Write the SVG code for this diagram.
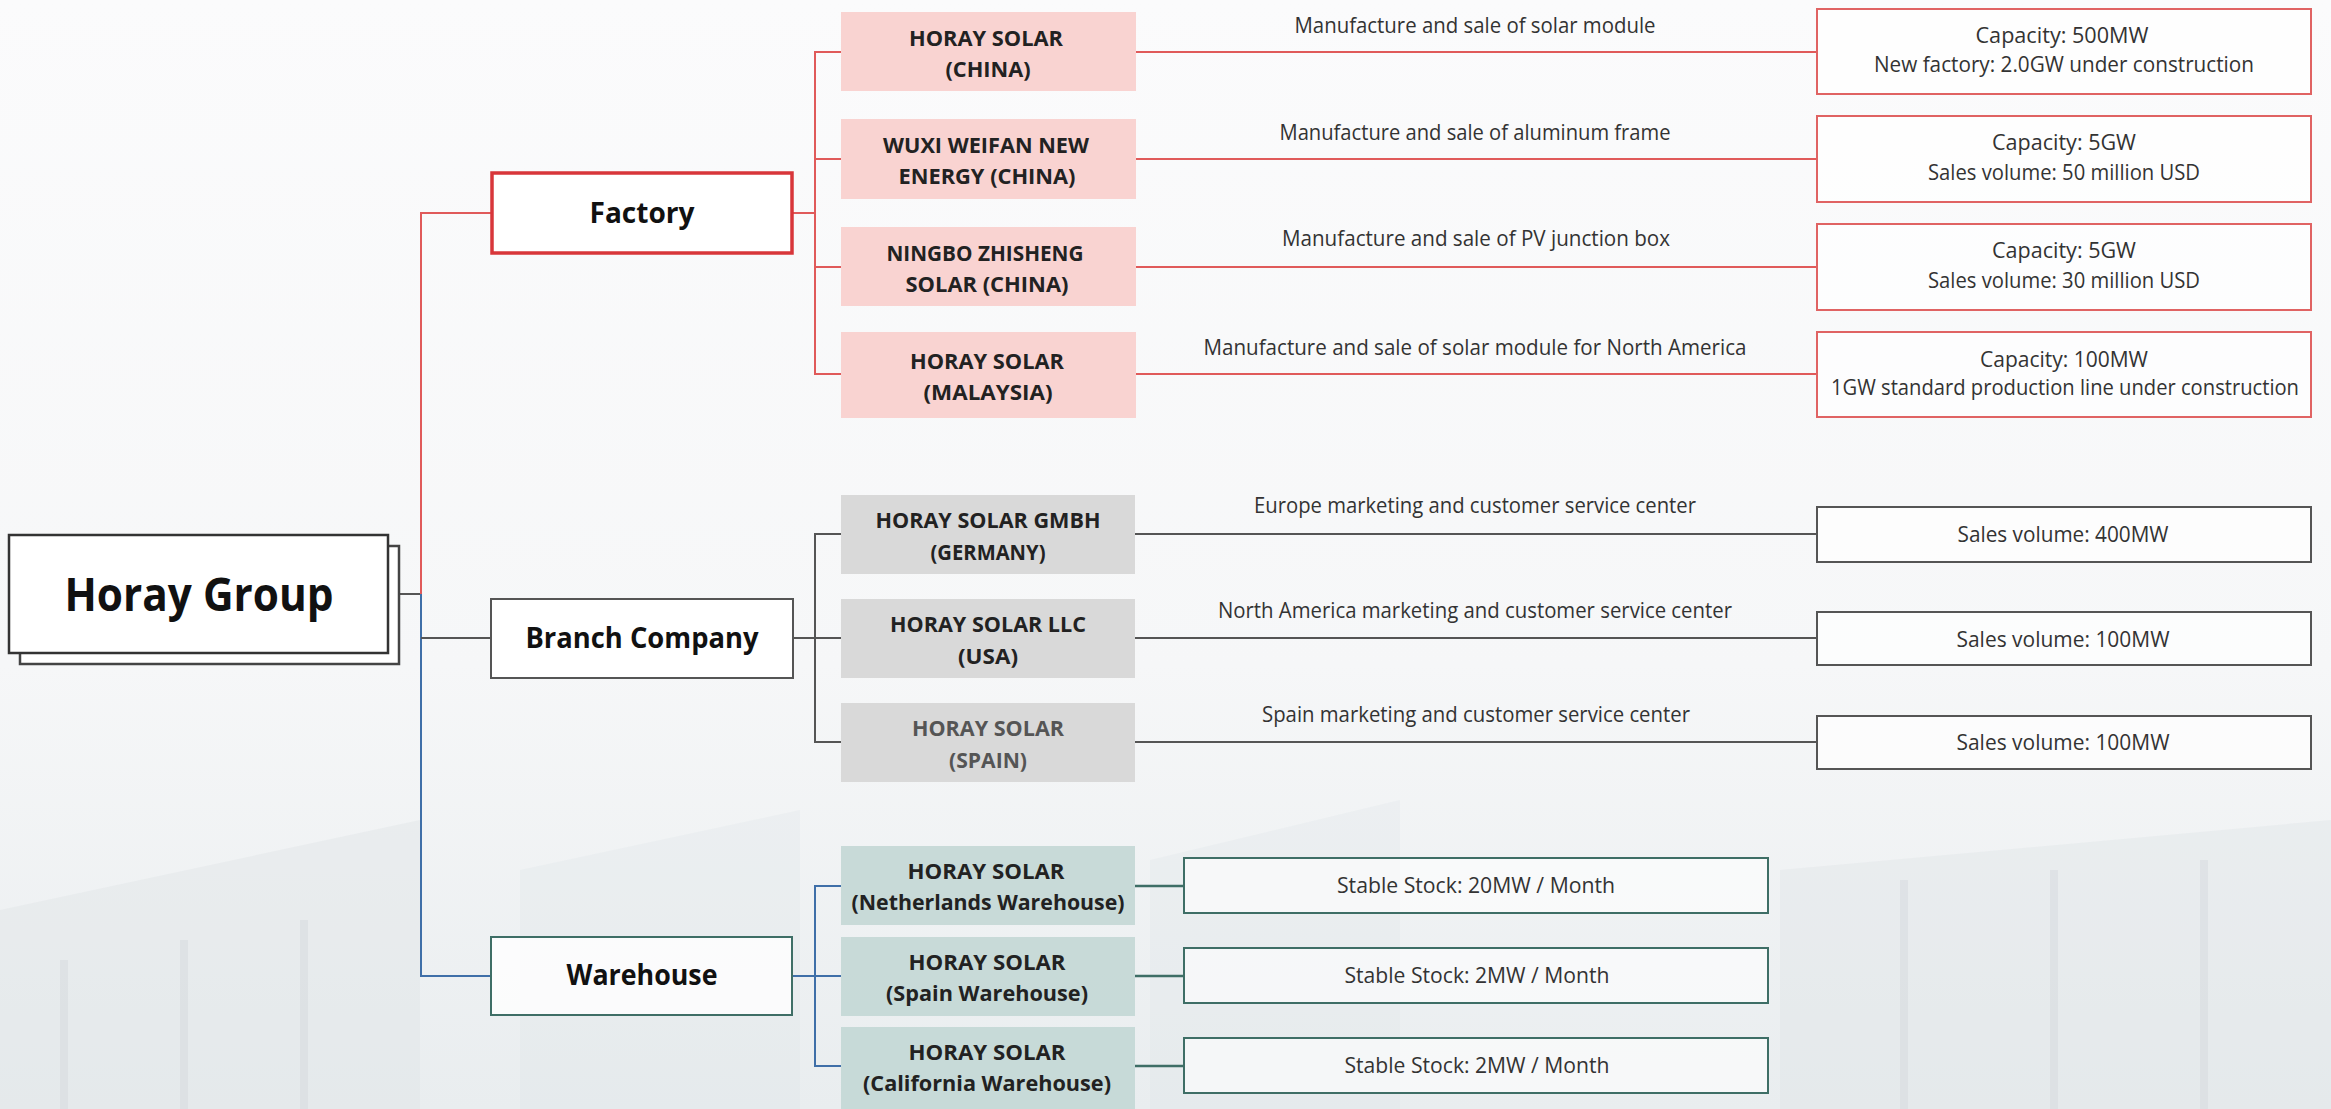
<svg xmlns="http://www.w3.org/2000/svg" width="2331" height="1109" viewBox="0 0 2331 1109">
<defs>
<linearGradient id="bg" x1="0" y1="0" x2="0" y2="1">
<stop offset="0" stop-color="#fbfbfc"/>
<stop offset="0.6" stop-color="#f6f7f8"/>
<stop offset="1" stop-color="#e9edef"/>
</linearGradient>
<style>
text{font-family:"Open Sans","Liberation Sans",sans-serif;text-anchor:middle;}
.main{font-size:29px;font-weight:700;fill:#111;}
.root{font-size:47px;font-weight:700;fill:#111;}
.sub{font-size:22px;font-weight:700;fill:#222;}
.desc{font-size:21px;font-weight:400;fill:#333;}
.det{font-size:21px;font-weight:400;fill:#333;}
.pink{fill:#f9d3d1;}
.gray{fill:#d9d9d9;}
.teal{fill:#c3d7d5;fill-opacity:0.9;}
.rbox{fill:#ffffff;fill-opacity:0.7;stroke:#e06363;stroke-width:2;}
.kbox{fill:#ffffff;fill-opacity:0.7;stroke:#555;stroke-width:2;}
.tbox{fill:#ffffff;fill-opacity:0.6;stroke:#3e6e66;stroke-width:2;}
.lr{stroke:#e05a5a;stroke-width:2;fill:none;}
.lk{stroke:#555;stroke-width:2;fill:none;}
.lb{stroke:#3f6fa8;stroke-width:2;fill:none;}
.lt{stroke:#3e6e66;stroke-width:2.5;fill:none;}
</style>
</defs>
<rect x="0" y="0" width="2331" height="1109" fill="url(#bg)"/>
<g id="background" fill="#dfe4e7" fill-opacity="0.45" stroke="none">
<polygon points="0,910 420,820 420,1109 0,1109"/>
<polygon points="520,870 800,810 800,1109 520,1109" fill-opacity="0.3"/>
<polygon points="1150,860 1400,800 1400,1109 1150,1109" fill-opacity="0.3"/>
<polygon points="1780,870 2331,820 2331,1109 1780,1109" fill-opacity="0.4"/>
<rect x="60" y="960" width="8" height="149" fill="#d2d8dc"/>
<rect x="180" y="940" width="8" height="169" fill="#d2d8dc"/>
<rect x="300" y="920" width="8" height="189" fill="#d2d8dc"/>
<rect x="1900" y="880" width="8" height="229" fill="#d2d8dc"/>
<rect x="2050" y="870" width="8" height="239" fill="#d2d8dc"/>
<rect x="2200" y="860" width="8" height="249" fill="#d2d8dc"/>
</g>
<g id="connectors">
<line class="lk" x1="399" y1="594" x2="421" y2="594" stroke="#2c3e5c"/>
<polyline class="lr" points="491,213 421,213 421,594"/>
<polyline class="lb" points="421,594 421,976 491,976"/>
<line class="lk" x1="421" y1="638" x2="491" y2="638"/>
<line class="lr" x1="793" y1="213" x2="815" y2="213"/>
<polyline class="lr" points="841,52 815,52 815,374 841,374"/>
<line class="lr" x1="815" y1="159" x2="841" y2="159"/>
<line class="lr" x1="815" y1="267" x2="841" y2="267"/>
<line class="lr" x1="1136" y1="52" x2="1817" y2="52"/>
<line class="lr" x1="1136" y1="159" x2="1817" y2="159"/>
<line class="lr" x1="1136" y1="267" x2="1817" y2="267"/>
<line class="lr" x1="1136" y1="374" x2="1817" y2="374"/>
<line class="lk" x1="793" y1="638" x2="815" y2="638"/>
<polyline class="lk" points="841,534 815,534 815,742 841,742"/>
<line class="lk" x1="815" y1="638" x2="841" y2="638"/>
<line class="lk" x1="1135" y1="534" x2="1817" y2="534"/>
<line class="lk" x1="1135" y1="638" x2="1817" y2="638"/>
<line class="lk" x1="1135" y1="742" x2="1817" y2="742"/>
<line class="lb" x1="793" y1="976" x2="815" y2="976"/>
<polyline class="lb" points="841,886 815,886 815,1066 841,1066"/>
<line class="lb" x1="815" y1="976" x2="841" y2="976"/>
<line class="lt" x1="1135" y1="886" x2="1184" y2="886"/>
<line class="lt" x1="1135" y1="976" x2="1184" y2="976"/>
<line class="lt" x1="1135" y1="1066" x2="1184" y2="1066"/>
</g>
<g id="horay-group">
<rect x="20" y="546" width="379" height="118" fill="#fff" stroke="#444" stroke-width="2.5"/>
<rect x="9" y="535" width="379" height="118" fill="#fff" stroke="#333" stroke-width="2.5"/>
<text class="root" x="199" y="611" textLength="269" lengthAdjust="spacingAndGlyphs">Horay Group</text>
</g>
<g id="factory">
<rect x="492" y="173" width="300" height="80" fill="#fff" stroke="#d8363a" stroke-width="3.5"/>
<text class="main" x="642" y="223" textLength="105" lengthAdjust="spacingAndGlyphs">Factory</text>
</g>
<g id="branch-company">
<rect x="491" y="599" width="302" height="79" fill="#fff" stroke="#555" stroke-width="2"/>
<text class="main" x="642" y="648" textLength="233" lengthAdjust="spacingAndGlyphs">Branch Company</text>
</g>
<g id="warehouse">
<rect x="491" y="937" width="301" height="78" fill="#fff" fill-opacity="0.8" stroke="#3e6e66" stroke-width="2"/>
<text class="main" x="642" y="985" textLength="151" lengthAdjust="spacingAndGlyphs">Warehouse</text>
</g>

<g id="horay-solar-china">
<rect class="pink" x="841" y="12" width="295" height="79"/>
<text class="sub" x="986" y="46" textLength="154" lengthAdjust="spacingAndGlyphs">HORAY SOLAR</text>
<text class="sub" x="988" y="77" textLength="85" lengthAdjust="spacingAndGlyphs">(CHINA)</text>
</g>
<g id="wuxi-weifan">
<rect class="pink" x="841" y="119" width="295" height="80"/>
<text class="sub" x="986" y="153" textLength="206" lengthAdjust="spacingAndGlyphs">WUXI WEIFAN NEW</text>
<text class="sub" x="987" y="184" textLength="177" lengthAdjust="spacingAndGlyphs">ENERGY (CHINA)</text>
</g>
<g id="ningbo-zhisheng">
<rect class="pink" x="841" y="227" width="295" height="79"/>
<text class="sub" x="985" y="261" textLength="197" lengthAdjust="spacingAndGlyphs">NINGBO ZHISHENG</text>
<text class="sub" x="987" y="292" textLength="163" lengthAdjust="spacingAndGlyphs">SOLAR (CHINA)</text>
</g>
<g id="horay-solar-malaysia">
<rect class="pink" x="841" y="332" width="295" height="86"/>
<text class="sub" x="987" y="369" textLength="154" lengthAdjust="spacingAndGlyphs">HORAY SOLAR</text>
<text class="sub" x="988" y="400" textLength="129" lengthAdjust="spacingAndGlyphs">(MALAYSIA)</text>
</g>

<g id="desc-factory">
<text class="desc" x="1475" y="33" textLength="361" lengthAdjust="spacingAndGlyphs">Manufacture and sale of solar module</text>
<text class="desc" x="1475" y="140" textLength="391" lengthAdjust="spacingAndGlyphs">Manufacture and sale of aluminum frame</text>
<text class="desc" x="1476" y="246" textLength="388" lengthAdjust="spacingAndGlyphs">Manufacture and sale of PV junction box</text>
<text class="desc" x="1475" y="355" textLength="543" lengthAdjust="spacingAndGlyphs">Manufacture and  sale of solar module for North America</text>
</g>

<g id="detail-china">
<rect class="rbox" x="1817" y="9" width="494" height="85"/>
<text class="det" x="2062" y="43" textLength="173" lengthAdjust="spacingAndGlyphs">Capacity: 500MW</text>
<text class="det" x="2064" y="72" textLength="380" lengthAdjust="spacingAndGlyphs">New factory: 2.0GW under construction</text>
</g>
<g id="detail-wuxi">
<rect class="rbox" x="1817" y="116" width="494" height="86"/>
<text class="det" x="2064" y="150" textLength="144" lengthAdjust="spacingAndGlyphs">Capacity: 5GW</text>
<text class="det" x="2064" y="180" textLength="272" lengthAdjust="spacingAndGlyphs">Sales volume: 50 million USD</text>
</g>
<g id="detail-ningbo">
<rect class="rbox" x="1817" y="224" width="494" height="86"/>
<text class="det" x="2064" y="258" textLength="144" lengthAdjust="spacingAndGlyphs">Capacity: 5GW</text>
<text class="det" x="2064" y="288" textLength="272" lengthAdjust="spacingAndGlyphs">Sales volume: 30 million USD</text>
</g>
<g id="detail-malaysia">
<rect class="rbox" x="1817" y="332" width="494" height="85"/>
<text class="det" x="2064" y="367" textLength="168" lengthAdjust="spacingAndGlyphs">Capacity: 100MW</text>
<text class="det" x="2065" y="395" textLength="468" lengthAdjust="spacingAndGlyphs">1GW standard production line under construction</text>
</g>

<g id="horay-solar-gmbh">
<rect class="gray" x="841" y="495" width="294" height="79"/>
<text class="sub" x="988" y="528" textLength="225" lengthAdjust="spacingAndGlyphs">HORAY SOLAR GMBH</text>
<text class="sub" x="988" y="560" textLength="115" lengthAdjust="spacingAndGlyphs">(GERMANY)</text>
</g>
<g id="horay-solar-llc">
<rect class="gray" x="841" y="599" width="294" height="79"/>
<text class="sub" x="988" y="632" textLength="196" lengthAdjust="spacingAndGlyphs">HORAY SOLAR LLC</text>
<text class="sub" x="988" y="664" textLength="60" lengthAdjust="spacingAndGlyphs">(USA)</text>
</g>
<g id="horay-solar-spain">
<rect class="gray" x="841" y="703" width="294" height="79"/>
<text class="sub" x="988" y="736" textLength="152" lengthAdjust="spacingAndGlyphs" style="fill:#555">HORAY SOLAR</text>
<text class="sub" x="988" y="768" textLength="78" lengthAdjust="spacingAndGlyphs" style="fill:#555">(SPAIN)</text>
</g>

<g id="desc-branch">
<text class="desc" x="1475" y="513" textLength="442" lengthAdjust="spacingAndGlyphs">Europe marketing and customer service center</text>
<text class="desc" x="1475" y="618" textLength="514" lengthAdjust="spacingAndGlyphs">North America marketing and customer service center</text>
<text class="desc" x="1476" y="722" textLength="428" lengthAdjust="spacingAndGlyphs">Spain marketing and customer service center</text>
</g>

<g id="detail-germany">
<rect class="kbox" x="1817" y="507" width="494" height="55"/>
<text class="det" x="2063" y="542" textLength="211" lengthAdjust="spacingAndGlyphs">Sales volume: 400MW</text>
</g>
<g id="detail-usa">
<rect class="kbox" x="1817" y="612" width="494" height="53"/>
<text class="det" x="2063" y="647" textLength="213" lengthAdjust="spacingAndGlyphs">Sales volume: 100MW</text>
</g>
<g id="detail-spain">
<rect class="kbox" x="1817" y="716" width="494" height="53"/>
<text class="det" x="2063" y="750" textLength="213" lengthAdjust="spacingAndGlyphs">Sales volume: 100MW</text>
</g>

<g id="netherlands-warehouse">
<rect class="teal" x="841" y="846" width="294" height="79"/>
<text class="sub" x="986" y="879" textLength="157" lengthAdjust="spacingAndGlyphs">HORAY SOLAR</text>
<text class="sub" x="988" y="910" textLength="273" lengthAdjust="spacingAndGlyphs">(Netherlands Warehouse)</text>
</g>
<g id="spain-warehouse">
<rect class="teal" x="841" y="937" width="294" height="79"/>
<text class="sub" x="987" y="970" textLength="157" lengthAdjust="spacingAndGlyphs">HORAY SOLAR</text>
<text class="sub" x="987" y="1001" textLength="202" lengthAdjust="spacingAndGlyphs">(Spain Warehouse)</text>
</g>
<g id="california-warehouse">
<rect class="teal" x="841" y="1027" width="294" height="82"/>
<text class="sub" x="987" y="1060" textLength="157" lengthAdjust="spacingAndGlyphs">HORAY SOLAR</text>
<text class="sub" x="987" y="1091" textLength="248" lengthAdjust="spacingAndGlyphs">(California Warehouse)</text>
</g>

<g id="stock-netherlands">
<rect class="tbox" x="1184" y="858" width="584" height="55"/>
<text class="det" x="1476" y="893" textLength="278" lengthAdjust="spacingAndGlyphs">Stable Stock: 20MW / Month</text>
</g>
<g id="stock-spain">
<rect class="tbox" x="1184" y="948" width="584" height="55"/>
<text class="det" x="1477" y="983" textLength="265" lengthAdjust="spacingAndGlyphs">Stable Stock: 2MW / Month</text>
</g>
<g id="stock-california">
<rect class="tbox" x="1184" y="1038" width="584" height="55"/>
<text class="det" x="1477" y="1073" textLength="265" lengthAdjust="spacingAndGlyphs">Stable Stock: 2MW / Month</text>
</g>
</svg>
